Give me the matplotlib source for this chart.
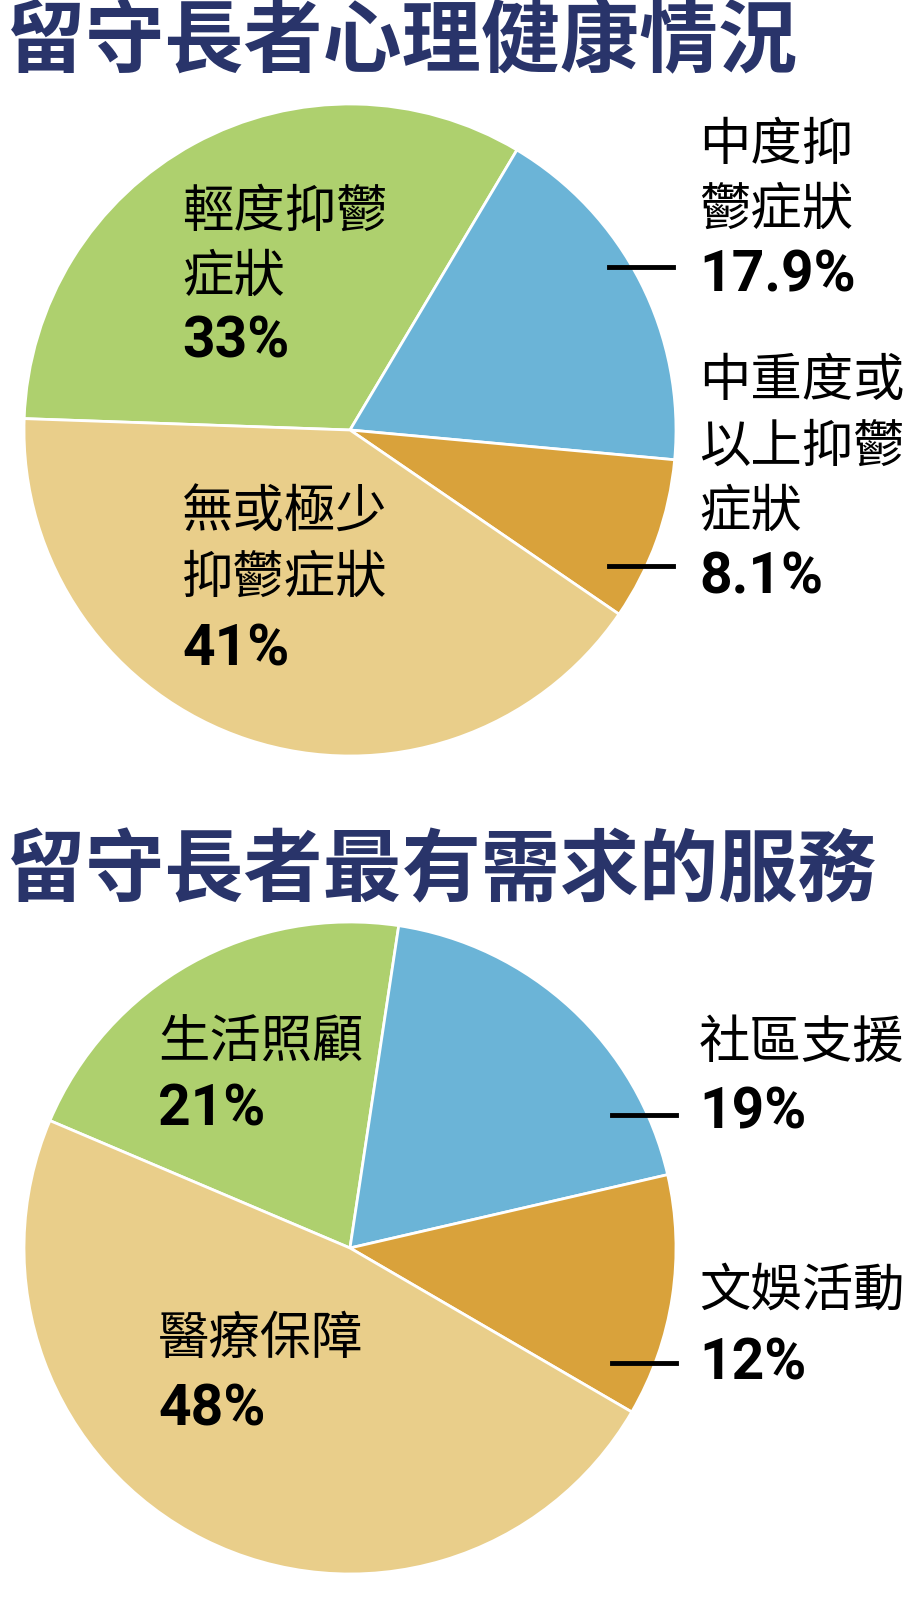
import matplotlib
matplotlib.use('Agg')
import matplotlib.pyplot as plt
from matplotlib.lines import Line2D

W, H = 907, 1599

# chart data
mh_title = '留守長者心理健康情況'
mh_labels = ['輕度抑鬱\n症狀', '中度抑\n鬱症狀', '中重度或\n以上抑鬱\n症狀', '無或極少\n抑鬱症狀']
mh_values = [33, 17.9, 8.1, 41]

svc_title = '留守長者最有需求的服務'
svc_labels = ['生活照顧', '社區支援', '文娛活動', '醫療保障']
svc_values = [21, 19, 12, 48]

colors = ['#AED06E', '#6BB4D7', '#D9A23B', '#E9CE8A']
navy = '#29346A'

CJK = ['Noto Sans CJK TC', 'DejaVu Sans']
NUM = ['Roboto', 'Noto Sans CJK TC']


def px(x, y):
    return x / W, 1 - y / H


def pie_axes(fig, cx, cy, r, values, start):
    ax = fig.add_axes([(cx - r) / W, (H - cy - r) / H, 2 * r / W, 2 * r / H])
    ax.pie(values, colors=colors, startangle=start, counterclock=False,
           wedgeprops=dict(edgecolor='white', linewidth=2))
    ax.set_xlim(-1, 1)
    ax.set_ylim(-1, 1)
    ax.set_aspect('equal')
    ax.axis('off')
    return ax


def label(fig, x, y, text, value, pct_y, fs=37):
    fig.text(*px(x, y), text, family=CJK, fontsize=fs, va='top',
             ha='left', linespacing=1.28)
    fig.text(*px(x, pct_y), f'{value:g}%', family=NUM, fontsize=41,
             fontweight='bold', va='center', ha='left')


def leader(fig, x0, x1, y):
    fig.add_artist(Line2D([x0 / W, x1 / W], [1 - y / H, 1 - y / H],
                          color='black', linewidth=3.5,
                          transform=fig.transFigure))


fig = plt.figure(figsize=(W / 100, H / 100), dpi=100)
fig.patch.set_facecolor('white')

# top chart
fig.text(*px(6, 42), mh_title, family=CJK, fontsize=57, fontweight='heavy',
         color=navy, va='center', ha='left')
pie_axes(fig, 350, 430, 326, mh_values, 178)
label(fig, 182, 185, mh_labels[0], mh_values[0], 342)
label(fig, 699, 118, mh_labels[1], mh_values[1], 276)
label(fig, 699, 355, mh_labels[2], mh_values[2], 578)
label(fig, 182, 486, mh_labels[3], mh_values[3], 650)
leader(fig, 609, 673, 267)
leader(fig, 609, 673, 566)

# bottom chart
fig.text(*px(6, 872), svc_title, family=CJK, fontsize=57, fontweight='heavy',
         color=navy, va='center', ha='left')
pie_axes(fig, 350, 1248, 326, svc_values, 157)
label(fig, 158, 1016, svc_labels[0], svc_values[0], 1110)
label(fig, 699, 1016, svc_labels[1], svc_values[1], 1113)
label(fig, 699, 1264, svc_labels[2], svc_values[2], 1364)
label(fig, 158, 1313, svc_labels[3], svc_values[3], 1410)
leader(fig, 612, 676, 1115)
leader(fig, 612, 676, 1363)

fig.savefig('out.png', dpi=100, facecolor='white')
